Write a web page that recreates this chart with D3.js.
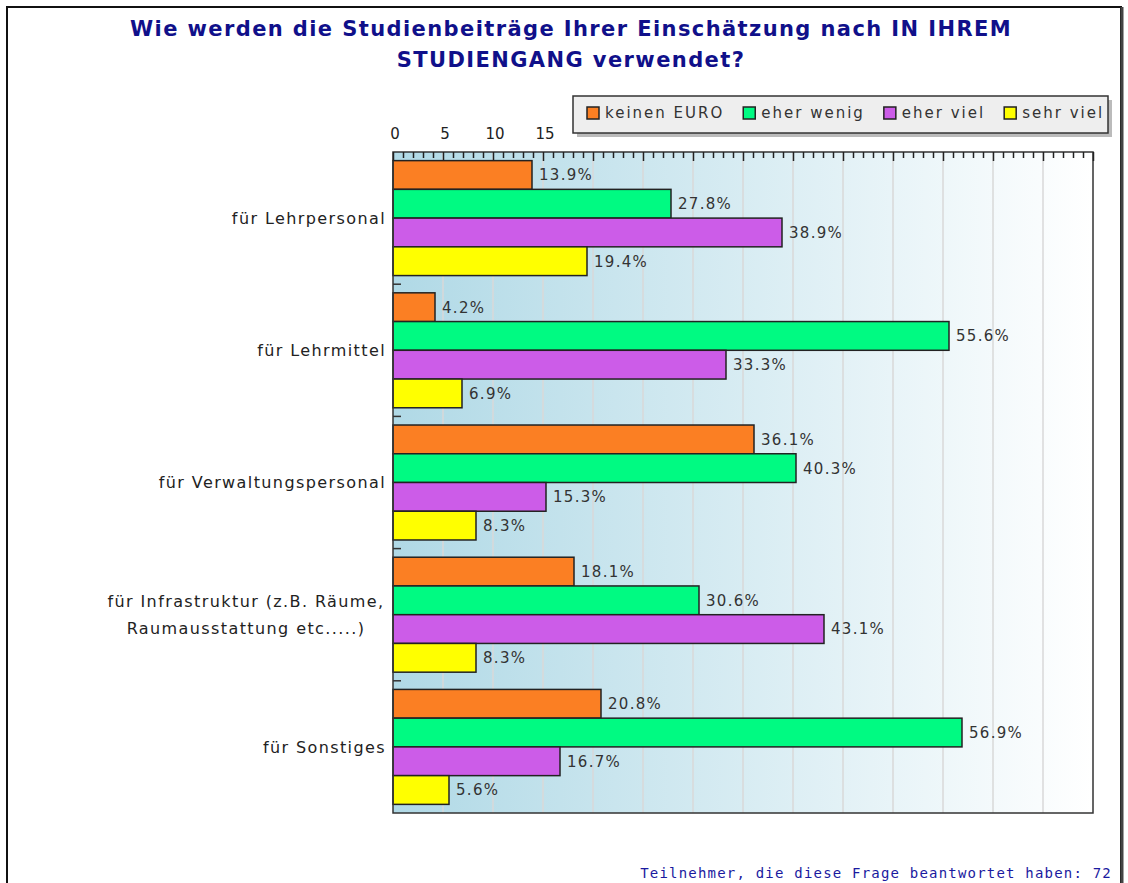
<!DOCTYPE html>
<html><head><meta charset="utf-8">
<script src="https://cdn.jsdelivr.net/npm/d3@7"></script>
<style>body{margin:0;background:#fff}</style>
</head><body>
<svg id="c" width="1128" height="883"></svg>
<script>
const categories = ["für Lehrpersonal","für Lehrmittel","für Verwaltungspersonal","für Infrastruktur (z.B. Räume,\nRaumausstattung etc.....)","für Sonstiges"];
const seriesNames = ["keinen EURO","eher wenig","eher viel","sehr viel"];
const keinenEuro = [13.9,4.2,36.1,18.1,20.8];
const eherWenig = [27.8,55.6,40.3,30.6,56.9];
const eherViel = [38.9,33.3,15.3,43.1,16.7];
const sehrViel = [19.4,6.9,8.3,8.3,5.6];
const tickLabels = [0,5,10,15];
const colors = ["#fb7f23","#00fa82","#cc5ce8","#ffff00"];
const titleLines = ["Wie werden die Studienbeiträge Ihrer Einschätzung nach IN IHREM","STUDIENGANG verwendet?"];
const footer = "Teilnehmer, die diese Frage beantwortet haben: 72";

const seriesValues = [keinenEuro, eherWenig, eherViel, sehrViel];
const svg = d3.select("#c");
const W = 1128, H = 883;
const L = 393, R = 1093, T = 152, B = 813;

// outer frame
svg.append("rect").attr("x",7).attr("y",7).attr("width",1114).attr("height",900)
  .attr("fill","#fff").attr("stroke","#111").attr("stroke-width",2);
svg.append("line").attr("x1",1122).attr("x2",1122).attr("y1",7).attr("y2",H)
  .attr("stroke","#444").attr("stroke-width",3);

// title
const title = svg.append("text").attr("text-anchor","middle")
  .attr("font-family","DejaVu Sans, Verdana, sans-serif").attr("font-weight","bold")
  .attr("font-size",21).attr("letter-spacing",1.4).attr("fill","#10108a");
titleLines.forEach((t,i)=>title.append("tspan").attr("x",571).attr("y",36+i*31).text(t));

// scales
const x = d3.scaleLinear().domain([0,70]).range([L,R]);
const y0 = d3.scaleBand().domain(d3.range(categories.length)).range([T,B]).padding(0);
const y1 = d3.scaleBand().domain(d3.range(seriesNames.length)).range([0,y0.bandwidth()]).paddingInner(0).paddingOuter(0.3);

// gradient background
const defs = svg.append("defs");
const g = defs.append("linearGradient").attr("id","bg").attr("x1","0").attr("x2","1").attr("y1","0").attr("y2","0");
g.append("stop").attr("offset","0").attr("stop-color","#b0d9e6");
g.append("stop").attr("offset","1").attr("stop-color","#ffffff");
svg.append("rect").attr("x",L).attr("y",T).attr("width",R-L).attr("height",B-T).attr("fill","url(#bg)");

// grid lines
svg.append("g").selectAll("line").data(d3.range(5,70,5)).join("line")
  .attr("x1",d=>x(d)).attr("x2",d=>x(d)).attr("y1",T).attr("y2",B)
  .attr("stroke","#d8d8d8").attr("stroke-width",1.5);

// bars
const groups = svg.append("g").selectAll("g").data(categories).join("g")
  .attr("transform",(d,i)=>`translate(0,${y0(i)})`);
groups.each(function(c,ci){
  const gg = d3.select(this);
  seriesValues.forEach((vals,si)=>{
    gg.append("rect").attr("x",x(0)).attr("y",y1(si)).attr("width",x(vals[ci])-x(0)).attr("height",y1.bandwidth())
      .attr("fill",colors[si]).attr("stroke","#222").attr("stroke-width",1.5);
    gg.append("text").attr("x",x(vals[ci])+7).attr("y",y1(si)+y1.bandwidth()/2).attr("dy","0.36em")
      .attr("font-family","DejaVu Sans, Verdana, sans-serif").attr("font-size",15).attr("letter-spacing",1.3)
      .attr("fill","#333").text(vals[ci].toFixed(1)+"%");
  });
});

// y-axis small ticks at group boundaries
svg.append("g").selectAll("line").data(d3.range(1,categories.length)).join("line")
  .attr("x1",L).attr("x2",L+8).attr("y1",d=>y0(d)).attr("y2",d=>y0(d))
  .attr("stroke","#333").attr("stroke-width",1.5);

// category labels
const cl = svg.append("g").attr("font-family","DejaVu Sans, Verdana, sans-serif").attr("font-size",16)
  .attr("letter-spacing",1.4).attr("fill","#222");
categories.forEach((c,i)=>{
  const lines = c.split("\n");
  const cy = y0(i)+y0.bandwidth()/2;
  const t = cl.append("text").attr("text-anchor",lines.length>1?"middle":"end");
  lines.forEach((ln,k)=>{
    t.append("tspan").attr("x",lines.length>1?246:386)
      .attr("y",cy + (k-(lines.length-1)/2)*27).attr("dy","0.35em").text(ln);
  });
});

// plot frame
svg.append("rect").attr("x",L).attr("y",T).attr("width",R-L).attr("height",B-T)
  .attr("fill","none").attr("stroke","#333").attr("stroke-width",1.5);

// top axis ticks (pointing inward)
const ax = d3.axisBottom(x).tickValues(d3.range(0,71,1)).tickSizeInner(0).tickSizeOuter(0).tickFormat("");
const axG = svg.append("g").attr("transform",`translate(0,${T})`).call(ax);
axG.select(".domain").remove();
axG.selectAll(".tick line").attr("y2",d=>d%5===0?9:6).attr("stroke","#222").attr("stroke-width",1.5);

// tick labels
svg.append("g").selectAll("text").data(tickLabels).join("text")
  .attr("x",d=>x(d)+2).attr("y",139).attr("text-anchor","middle")
  .attr("font-family","DejaVu Sans, Verdana, sans-serif").attr("font-size",15).attr("fill","#222")
  .text(d=>d);

// legend
const lg = svg.append("g");
lg.append("rect").attr("x",577).attr("y",100).attr("width",535).attr("height",37).attr("fill","#bbb");
lg.append("rect").attr("x",573).attr("y",96).attr("width",535).attr("height",37)
  .attr("fill","#eeeeee").attr("stroke","#333").attr("stroke-width",1.5);
let lx = 587;
seriesNames.forEach((s,i)=>{
  lg.append("rect").attr("x",lx).attr("y",107).attr("width",12).attr("height",12)
    .attr("fill",colors[i]).attr("stroke","#222").attr("stroke-width",1.5);
  const t = lg.append("text").attr("x",lx+18).attr("y",113).attr("dy","0.36em")
    .attr("font-family","DejaVu Sans, Verdana, sans-serif").attr("font-size",15).attr("letter-spacing",2.0)
    .attr("fill","#333").text(s);
  lx = lx + 18 + t.node().getComputedTextLength() + 19;
});

// footer
svg.append("text").attr("x",1112).attr("y",878).attr("text-anchor","end")
  .attr("font-family","DejaVu Sans Mono, monospace").attr("font-size",14).attr("letter-spacing",1.2)
  .attr("fill","#1a1aa0").text(footer);
</script>
</body></html>
